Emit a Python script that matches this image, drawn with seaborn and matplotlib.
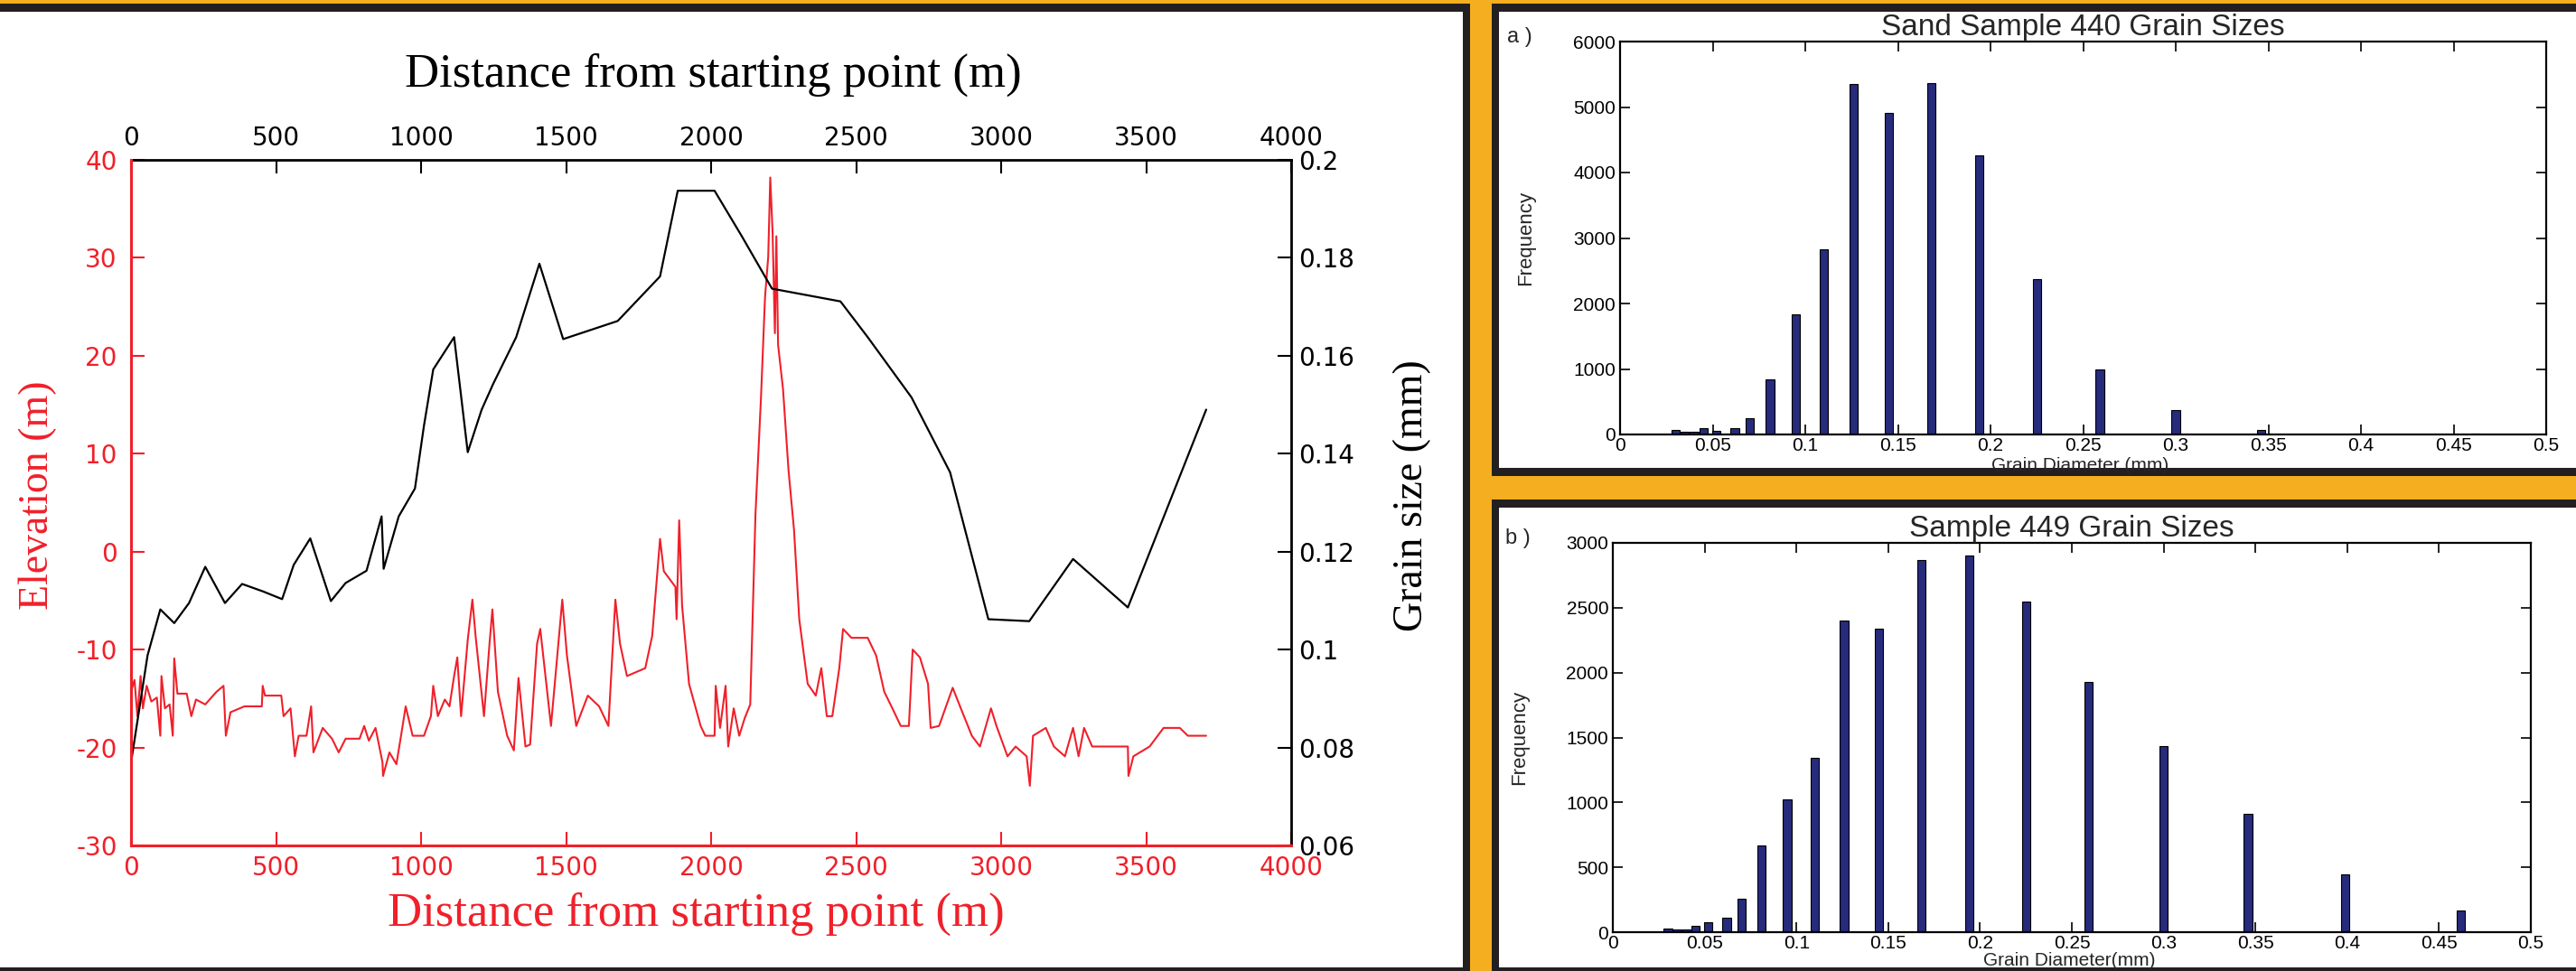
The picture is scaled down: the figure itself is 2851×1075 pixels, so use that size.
import numpy as np
import pandas as pd
import matplotlib
matplotlib.use("Agg")
import matplotlib.pyplot as plt
import seaborn as sns
from matplotlib.patches import Rectangle
from matplotlib.ticker import FuncFormatter

W, H = 2851, 1075
ORANGE = "#F5AE1F"
DARK = "#231F20"
RED = "#F0202A"
NAVY = "#272B7B"

# elevation profile along the transect (red, left axis)
elev_dist = [0, 12, 22, 33, 41, 54, 70, 89, 101, 105,
             117, 133, 144, 149, 160, 192, 208, 224, 256, 295,
             319, 327, 343, 391, 451, 454, 462, 518, 526, 550,
             565, 578, 605, 621, 629, 661, 693, 716, 740, 788,
             804, 820, 843, 867, 869, 891, 915, 931, 947, 971,
             1010, 1034, 1042, 1058, 1082, 1098, 1114, 1125, 1138, 1161,
             1177, 1188, 1217, 1236, 1246, 1265, 1297, 1320, 1336, 1360,
             1376, 1400, 1411, 1448, 1487, 1503, 1535, 1575, 1614, 1646,
             1670, 1686, 1710, 1773, 1797, 1824, 1837, 1877, 1881, 1890,
             1900, 1924, 1964, 1980, 2012, 2016, 2031, 2050, 2059, 2078,
             2097, 2116, 2135, 2153, 2172, 2186, 2197, 2204, 2212, 2220,
             2225, 2231, 2248, 2267, 2286, 2304, 2333, 2361, 2380, 2399,
             2418, 2442, 2455, 2484, 2540, 2569, 2597, 2625, 2654, 2682,
             2695, 2720, 2748, 2757, 2786, 2833, 2861, 2899, 2927, 2965,
             2984, 3022, 3050, 3088, 3099, 3110, 3154, 3182, 3220, 3248,
             3267, 3286, 3314, 3437, 3439, 3456, 3512, 3560, 3616, 3644,
             3707]
elev_m = [-14.3, -13.1, -16.8, -12.7, -16.0, -13.7, -15.3, -14.9, -18.8, -12.7,
          -16.0, -15.6, -18.8, -10.9, -14.5, -14.5, -16.8, -15.1, -15.6, -14.3,
          -13.7, -18.8, -16.4, -15.8, -15.8, -13.7, -14.7, -14.7, -16.8, -16.0,
          -20.9, -18.8, -18.8, -15.8, -20.5, -18.0, -19.1, -20.5, -19.1, -19.1,
          -17.8, -19.3, -18.0, -21.5, -22.9, -20.5, -21.7, -18.8, -15.8, -18.8,
          -18.8, -16.8, -13.7, -16.8, -15.1, -15.8, -12.7, -10.8, -16.8, -9.0,
          -4.9, -8.6, -16.8, -9.4, -5.9, -14.3, -18.8, -20.3, -12.9, -19.9,
          -19.7, -9.4, -7.9, -17.8, -4.9, -10.6, -17.8, -14.7, -15.8, -17.8,
          -4.9, -9.4, -12.7, -11.9, -8.6, 1.3, -2.0, -3.6, -6.9, 3.2,
          -5.5, -13.5, -17.8, -18.8, -18.8, -13.7, -18.0, -13.7, -19.9, -16.0,
          -18.8, -17.0, -15.6, 3.8, 15.7, 26.0, 30.1, 38.2, 32.6, 22.3,
          32.2, 21.1, 16.6, 8.3, 2.2, -6.9, -13.5, -14.7, -11.9, -16.8,
          -16.8, -11.9, -7.9, -8.8, -8.8, -10.6, -14.3, -16.0, -17.8, -17.8,
          -10.0, -10.8, -13.5, -18.0, -17.8, -13.9, -16.0, -18.8, -19.9, -16.0,
          -17.8, -20.9, -19.9, -20.9, -23.9, -18.8, -18.0, -19.9, -20.9, -18.0,
          -20.9, -18.0, -19.9, -19.9, -22.9, -20.9, -19.9, -18.0, -18.0, -18.8,
          -18.8]

# grain size along the transect (black, right axis)
grain_dist = [0, 57, 101, 149, 200, 256, 324, 383, 454, 521,
              561, 618, 689, 740, 812, 864, 871, 923, 979, 1010,
              1042, 1114, 1161, 1209, 1249, 1328, 1408, 1490, 1678, 1824,
              1885, 2012, 2106, 2210, 2446, 2540, 2691, 2824, 2956, 3097,
              3248, 3437, 3707]
grain_mm = [0.0769, 0.0988, 0.1082, 0.1054, 0.1095, 0.1169, 0.1095, 0.1134, 0.1119, 0.1103,
            0.1173, 0.1227, 0.1099, 0.1136, 0.1161, 0.1272, 0.1165, 0.1272, 0.1329, 0.1457,
            0.1572, 0.1638, 0.1403, 0.1490, 0.1543, 0.1638, 0.1788, 0.1634, 0.1671, 0.1762,
            0.1937, 0.1937, 0.1844, 0.1737, 0.1711, 0.1638, 0.1515, 0.1362, 0.1062, 0.1058,
            0.1185, 0.1086, 0.1490]

# sieve classes and counts of the two samples
sieve_mm = [0.030, 0.035, 0.040, 0.045, 0.052, 0.062, 0.070, 0.081, 0.095, 0.110,
            0.126, 0.145, 0.168, 0.194, 0.225, 0.259, 0.300, 0.346, 0.399, 0.462]
freq_440 = [71, 47, 38, 90, 52, 90, 242, 835, 1831, 2832,
            5350, 4914, 5364, 4264, 2376, 991, 379, 66, 15, 15]
freq_449 = [31, 19, 19, 48, 78, 114, 256, 665, 1024, 1342,
            2401, 2339, 2867, 2900, 2548, 1926, 1437, 912, 442, 166]

dist_ticks = list(range(0, 4001, 500))
elev_ticks = list(range(-30, 41, 10))
grain_ticks = [0.06, 0.08, 0.10, 0.12, 0.14, 0.16, 0.18, 0.20]
diam_ticks = [0, 0.05, 0.1, 0.15, 0.2, 0.25, 0.3, 0.35, 0.4, 0.45, 0.5]

sns.set_theme(style="ticks")
plt.rcParams["font.family"] = ["DejaVu Sans"]
plt.rcParams["axes.unicode_minus"] = False
plt.rcParams["xtick.direction"] = "in"
plt.rcParams["ytick.direction"] = "in"

SERIF = ["Liberation Serif", "DejaVu Serif"]
SANS = ["Liberation Sans", "DejaVu Sans"]
gfmt = FuncFormatter(lambda v, p: f"{v:g}")


def box(x0, y0, x1, y1):
    # pixel box (top-left origin) -> figure fraction rect
    return [x0 / W, 1 - y1 / H, (x1 - x0) / W, (y1 - y0) / H]


def panel(x0, y0, x1, y1, color, z):
    l, b, w, h = box(x0, y0, x1, y1)
    fig.patches.append(Rectangle((l, b), w, h, transform=fig.transFigure,
                                 facecolor=color, edgecolor="none", zorder=z))


fig = plt.figure(figsize=(W / 100, H / 100), dpi=100, facecolor=ORANGE)

# frames (kept below the axes)
panel(0, 4, 1627, 1075, DARK, -3)
panel(0, 13, 1619, 1071, "white", -2)
panel(1651, 4, W, 527, DARK, -3)
panel(1659, 13, W, 518, "white", -2)
panel(1651, 553, W, 1075, DARK, -3)
panel(1659, 562, W, 1071, "white", -2)

# ---------------- left: elevation + grain size profile
ax = fig.add_axes(box(145, 177, 1429, 936))
ax.set_facecolor("white")
sns.lineplot(x=elev_dist, y=elev_m, ax=ax, color=RED, lw=1.5,
             sort=False, estimator=None)
ax.set_xlim(0, 4000)
ax.set_ylim(-30, 40)
ax.set_xticks(dist_ticks)
ax.set_yticks(elev_ticks)
ax.tick_params(axis="both", colors=RED, labelsize=20, length=11, width=1.5)
ax.tick_params(axis="x", pad=8)
ax.tick_params(axis="y", pad=11)

ax.set_xlabel("Distance from starting point (m)", color=RED, fontsize=38,
              family=SERIF, va="center")
ax.xaxis.set_label_coords(0.487, -0.100)
ax.set_ylabel("Elevation (m)", color=RED, fontsize=33, family=SERIF, va="center")
ax.yaxis.set_label_coords(-0.080, 0.511)

ax2 = ax.twinx()
sns.lineplot(x=grain_dist, y=grain_mm, ax=ax2, color="black", lw=1.6,
             sort=False, estimator=None)
ax2.set_ylim(0.06, 0.2)
ax2.set_yticks(grain_ticks)
ax2.yaxis.set_major_formatter(gfmt)
ax2.tick_params(axis="y", colors="black", labelsize=20, length=11, width=1.5, pad=6)
ax2.set_ylabel("Grain size (mm)", color="black", fontsize=33, family=SERIF,
               va="center", rotation=90)
ax2.yaxis.set_label_coords(1.104, 0.511)

top = ax.secondary_xaxis("top")
top.set_xticks(dist_ticks)
top.tick_params(axis="x", colors="black", labelsize=20, length=11, width=1.5,
                pad=7, direction="in")
top.set_xlabel("Distance from starting point (m)", color="black", fontsize=38,
               family=SERIF, va="center")
top.xaxis.set_label_coords(0.502, 1.124, transform=ax.transAxes)

# spines: red for elevation / bottom distance, black for grain / top distance
for a in (ax, ax2, top):
    for s in ["left", "right", "top", "bottom"]:
        a.spines[s].set_visible(False)
for s in ["left", "bottom"]:
    ax2.spines[s].set_visible(True)
    ax2.spines[s].set_edgecolor(RED)
    ax2.spines[s].set_linewidth(2.2)
    ax2.spines[s].set_zorder(5)
for s in ["top", "right"]:
    ax2.spines[s].set_visible(True)
    ax2.spines[s].set_edgecolor("black")
    ax2.spines[s].set_linewidth(2)


# ---------------- right: grain size histograms
def hist_panel(rect, freqs, ymax, ystep, title, xlabel, xlab_y, letter, letter_xy):
    a = fig.add_axes(box(*rect))
    a.set_facecolor("white")
    df = pd.DataFrame({"diam": sieve_mm, "freq": freqs})
    sns.barplot(data=df, x="diam", y="freq", native_scale=True, width=0.9,
                color=NAVY, saturation=1, edgecolor="black", linewidth=0.8,
                errorbar=None, ax=a)
    a.set_xlim(0, 0.5)
    a.set_ylim(0, ymax)
    a.set_xticks(diam_ticks)
    a.set_yticks(np.arange(0, ymax + 1, ystep))
    a.xaxis.set_major_formatter(gfmt)
    a.tick_params(axis="both", top=True, right=True, direction="in",
                  labelsize=15, length=8, width=1.2, colors="black")
    a.tick_params(axis="x", pad=2)
    for lab in a.get_xticklabels() + a.get_yticklabels():
        lab.set_family(SANS)
    for s in a.spines.values():
        s.set_visible(True)
        s.set_color("black")
        s.set_linewidth(1.6)
    a.set_title(title, fontsize=24, family=SANS, pad=5)
    a.set_xlabel(xlabel, fontsize=15, family=SANS, va="center")
    a.xaxis.set_label_coords(0.497, xlab_y)
    a.set_ylabel("Frequency", fontsize=16, family=SANS, va="center")
    a.yaxis.set_label_coords(-0.102, 0.5)
    fig.text(letter_xy[0] / W, 1 - letter_xy[1] / H, letter, fontsize=17,
             family=SANS, ha="center", va="center")
    return a


hist_panel((1793, 46, 2818, 481), freq_440, 6000, 1000,
           "Sand Sample 440 Grain Sizes", "Grain Diameter (mm)", -0.08,
           "a )", (1682, 41))
hist_panel((1785, 601, 2801, 1032), freq_449, 3000, 500,
           "Sample 449 Grain Sizes", "Grain Diameter(mm)", -0.074,
           "b )", (1680, 596))

fig.savefig("out.png", dpi=100, facecolor=ORANGE)
